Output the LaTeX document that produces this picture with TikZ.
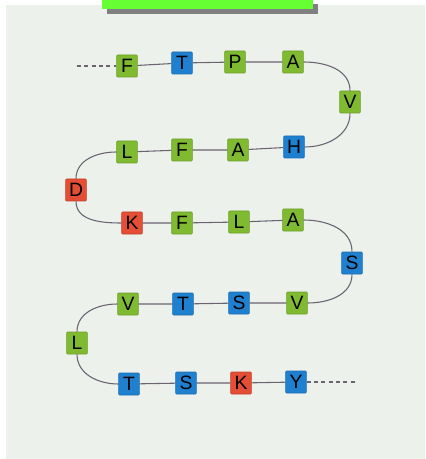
\documentclass[tikz,border=0pt]{standalone}
\usepackage{fontspec}
\setmainfont{Liberation Sans}
\definecolor{pagebg}{RGB}{237,241,236}
\definecolor{resgreen}{RGB}{128,186,48}
\definecolor{resblue}{RGB}{32,128,208}
\definecolor{resred}{RGB}{228,78,52}
\definecolor{chain}{RGB}{105,100,112}
\definecolor{barGreen}{RGB}{102,255,51}
\definecolor{barShadow}{RGB}{128,128,128}
\begin{document}
\begin{tikzpicture}[x=0.75pt,y=-0.75pt,
  res/.style={minimum width=15.6pt, minimum height=16.5pt, inner sep=0pt,
    rounded corners=0.8pt, font=\fontsize{14.5}{14.5}\selectfont, text=black,
    fill=#1, draw=#1!85!black, line width=0.5pt},
  bond/.style={draw=chain, line width=0.8pt},
  tail/.style={draw=chain, line width=0.8pt, dash pattern=on 3pt off 2.5pt}]
  \useasboundingbox (0,0) rectangle (425,459);
  % page and title bar
  \fill[white] (0,0) rectangle (425,459);
  \fill[pagebg] (6,5) rectangle (425,459);
  \fill[barShadow] (107,4) rectangle (318,14);
  \fill[barGreen] (102,0) rectangle (313,9);

  % residues, row by row
  \node[res=resgreen] (r1) at (127,66) {F};
  \node[res=resblue]  (r2) at (182,63) {T};
  \node[res=resgreen] (r3) at (235,62) {P};
  \node[res=resgreen] (r4) at (293,62) {A};
  \node[res=resgreen] (r5) at (350,102) {V};
  \node[res=resblue]  (r6) at (294,147) {H};
  \node[res=resgreen] (r7) at (238,150) {A};
  \node[res=resgreen] (r8) at (182,150) {F};
  \node[res=resgreen] (r9) at (127,152) {L};
  \node[res=resred]   (r10) at (76,190) {D};
  \node[res=resred]   (r11) at (132,223) {K};
  \node[res=resgreen] (r12) at (182,223) {F};
  \node[res=resgreen] (r13) at (239,222) {L};
  \node[res=resgreen] (r14) at (293,220) {A};
  \node[res=resblue]  (r15) at (352,263) {S};
  \node[res=resgreen] (r16) at (297,303) {V};
  \node[res=resblue]  (r17) at (239,303) {S};
  \node[res=resblue]  (r18) at (183,304) {T};
  \node[res=resgreen] (r19) at (128,304) {V};
  \node[res=resgreen] (r20) at (77,343) {L};
  \node[res=resblue]  (r21) at (129,384) {T};
  \node[res=resblue]  (r22) at (186,383) {S};
  \node[res=resred]   (r23) at (241,383) {K};
  \node[res=resblue]  (r24) at (296,382) {Y};

  \coordinate (tl) at (77,66);
  \coordinate (tr) at (356,382);

  % chain ends
  \draw[tail] (tl) -- (r1.west);
  \draw[tail] (r24.east) -- (tr);

  % straight bonds
  \draw[bond] (r1) -- (r2) -- (r3) -- (r4);
  \draw[bond] (r6) -- (r7) -- (r8) -- (r9);
  \draw[bond] (r11) -- (r12) -- (r13) -- (r14);
  \draw[bond] (r16) -- (r17) -- (r18) -- (r19);
  \draw[bond] (r21) -- (r22) -- (r23) -- (r24);

  % turns
  \draw[bond] (r4.east) to[out=0,in=90] (r5.north);
  \draw[bond] (r5.south) to[out=-90,in=0] (r6.east);
  \draw[bond] (r9.west) to[out=180,in=90] (r10.north);
  \draw[bond] (r10.south) to[out=-90,in=180] (r11.west);
  \draw[bond] (r14.east) to[out=0,in=90] (r15.north);
  \draw[bond] (r15.south) to[out=-90,in=0] (r16.east);
  \draw[bond] (r19.west) to[out=180,in=90] (r20.north);
  \draw[bond] (r20.south) to[out=-90,in=180] (r21.west);
\end{tikzpicture}
\end{document}
